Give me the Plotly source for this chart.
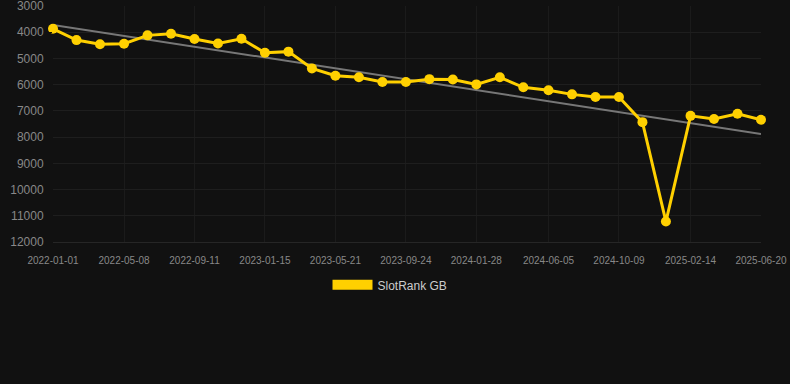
import plotly.graph_objects as go

dates = [
    "2022-01-01", "2022-02-12", "2022-03-26", "2022-05-08", "2022-06-19", "2022-07-31",
    "2022-09-11", "2022-10-23", "2022-12-04", "2023-01-15", "2023-02-26", "2023-04-09",
    "2023-05-21", "2023-07-02", "2023-08-13", "2023-09-24", "2023-11-05", "2023-12-17",
    "2024-01-28", "2024-03-10", "2024-04-21", "2024-06-05", "2024-07-17", "2024-08-28",
    "2024-10-09", "2024-11-20", "2025-01-01", "2025-02-14", "2025-03-28", "2025-05-09",
    "2025-06-20",
]
rank = [
    3870, 4300, 4460, 4440, 4120, 4060, 4260, 4430, 4250, 4780, 4740, 5380,
    5660, 5720, 5900, 5900, 5790, 5800, 5990, 5720, 6100, 6210, 6370, 6470,
    6470, 7430, 11220, 7190, 7310, 7110, 7340,
]
trend_dates = ["2022-01-01", "2025-06-20"]
trend_values = [3720, 7880]

tick_dates = ["2022-01-01", "2022-05-08", "2022-09-11", "2023-01-15", "2023-05-21",
              "2023-09-24", "2024-01-28", "2024-06-05", "2024-10-09", "2025-02-14",
              "2025-06-20"]
y_ticks = [3000, 4000, 5000, 6000, 7000, 8000, 9000, 10000, 11000, 12000]

yellow = "#FFD000"
bg = "#111111"

fig = go.Figure()
fig.add_trace(go.Scatter(
    x=trend_dates, y=trend_values, mode="lines",
    line=dict(color="#777777", width=2), showlegend=False, hoverinfo="skip",
))
fig.add_trace(go.Scatter(
    x=dates, y=rank, mode="lines+markers", name="SlotRank GB",
    line=dict(color=yellow, width=3), marker=dict(color=yellow, size=10),
    showlegend=False, cliponaxis=False,
))
fig.add_trace(go.Scatter(
    x=[None], y=[None], mode="lines", name="SlotRank GB",
    line=dict(color=yellow, width=11), showlegend=True,
))

fig.update_layout(
    width=790, height=384,
    paper_bgcolor=bg, plot_bgcolor=bg,
    margin=dict(l=53, r=29, t=6, b=142),
    font=dict(family="Liberation Sans, Arial, sans-serif", color="#888888"),
    legend=dict(orientation="h", x=0.476, xanchor="center", y=-0.12, yanchor="top",
                font=dict(size=12, color="#cccccc"), itemwidth=40),
    xaxis=dict(
        type="date", range=["2022-01-01", "2025-06-20"],
        tickvals=tick_dates, ticktext=tick_dates,
        tickfont=dict(size=10, color="#888888"),
        showgrid=True, gridcolor="#1b1b1b", zeroline=False,
        showline=True, linecolor="#262626", linewidth=1,
        ticks="outside", ticklen=9, tickcolor=bg,
        automargin=False, ticklabeloverflow="allow",
    ),
    yaxis=dict(
        range=[12000, 3000], tickvals=y_ticks, tickformat="d",
        tickfont=dict(size=12, color="#888888"),
        showgrid=True, gridcolor="#1e1e1e", zeroline=False,
        ticks="outside", ticklen=6, tickcolor=bg, showline=False,
        automargin=False, ticklabeloverflow="allow",
    ),
)

fig.write_html("out.html", config={"displayModeBar": False},
               post_script="document.body.style.margin='0';")
